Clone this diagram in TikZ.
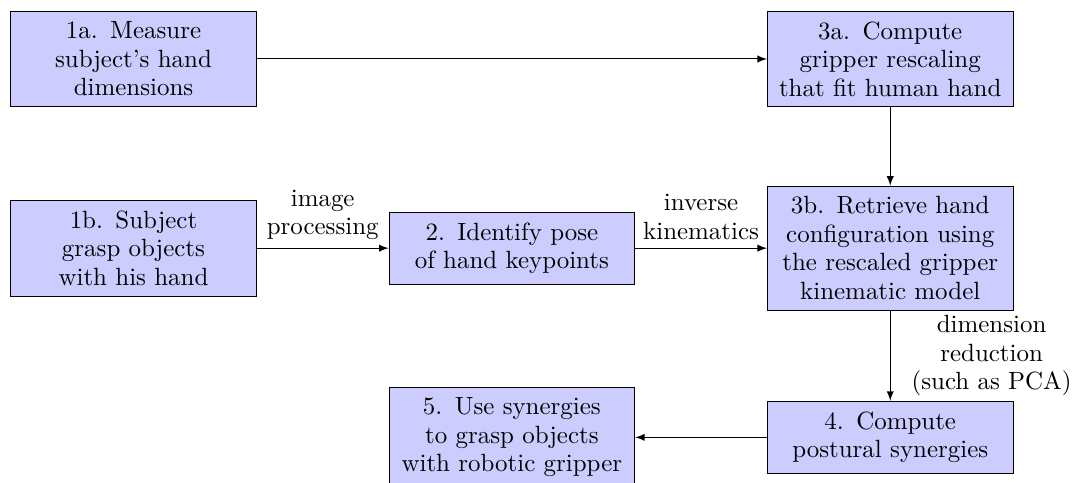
\documentclass[tikz,border=0pt]{standalone}
\begin{document}
\begin{tikzpicture}[
  every node/.style={font=\fontsize{10.5}{12}\selectfont},
  stepbox/.style={draw, fill=blue!20, text width=3.4cm, align=center, inner ysep=4.4pt},
  flow/.style={draw, -latex},
  lbl/.style={align=center}
]
\useasboundingbox (-1.976,0.873) rectangle (13.92,-6.267);

% process boxes on a 5.6cm x 2.8cm grid
\node[stepbox] (m1a) at (0,0)     {1a. Measure\\subject's hand\\dimensions};
\node[stepbox] (m3a) at (11.2,0)  {3a. Compute\\gripper rescaling\\that fit human hand};
\node[stepbox] (m1b) at (0,-2.8)  {1b. Subject\\grasp objects\\with his hand};
\node[stepbox] (m2)  at (5.6,-2.8) {2. Identify pose\\of hand keypoints};
\node[stepbox] (m3b) at (11.2,-2.8) {3b. Retrieve hand\\configuration using\\the rescaled gripper\\kinematic model};
\node[stepbox] (m4)  at (11.2,-5.6) {4. Compute\\postural synergies};
\node[stepbox] (m5)  at (5.6,-5.6)  {5. Use synergies\\to grasp objects\\with robotic gripper};

% connectors
\draw[flow] (m1a) -- (m3a);
\draw[flow] (m3a) -- (m3b);
\draw[flow] (m1b) -- node[lbl, above] {image\\processing} (m2);
\draw[flow] (m2) -- node[lbl, above] {inverse\\kinematics} (m3b);
\draw[flow] (m3b) -- node[lbl, right, xshift=5.5pt] {dimension\\reduction\\(such as PCA)} (m4);
\draw[flow] (m4) -- (m5);
\end{tikzpicture}
\end{document}
